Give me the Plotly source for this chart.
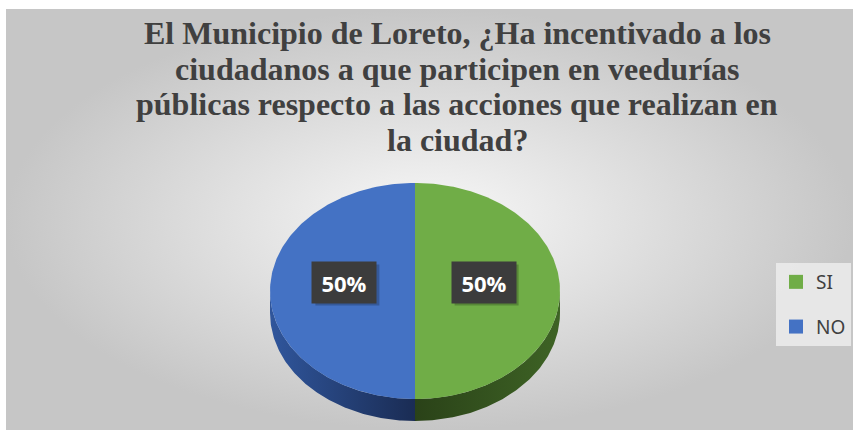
import numpy as np
import plotly.graph_objects as go

# ---- data ----
labels = ["SI", "NO"]
values = [50, 50]
colors = ["#70AD47", "#4472C4"]
wall_scales = [
    [[0, "#2a4218"], [1, "#3e6325"]],   # SI wall: dark at centre, lighter to the right
    [[0, "#30569c"], [1, "#1a2c54"]],   # NO wall: lighter at left, dark at centre
]
title_lines = [
    "El Municipio de Loreto, ¿Ha incentivado a los",
    "ciudadanos a que participen en veedurías",
    "públicas respecto a las acciones que realizan en",
    "la ciudad?",
]

# ---- layout geometry (pixels) ----
W, H = 853, 430
cx, cy, rx, ry, depth = 415, 291, 145, 108, 22
title_x, title_base, title_step, title_size = 457, 43, 35.7, 32
box_w, box_h = 64, 41

fig = go.Figure()

# chart-area background with radial gradient
fig.add_trace(go.Scatter(
    x=[6, W, W, 6, 6], y=[9, 9, H, H, 9], mode="lines", line=dict(width=0),
    fill="toself",
    fillgradient=dict(type="radial", colorscale=[[0, "#f8f8f8"], [1, "#c6c6c6"]]),
    hoverinfo="skip", showlegend=False,
))

total = float(sum(values))
bounds = []
acc = 0.0
for v in values:
    bounds.append((2 * np.pi * acc / total, 2 * np.pi * (acc + v) / total))
    acc += v

# side walls (front half only)
for (t0, t1), ws in zip(bounds, wall_scales):
    a, b = max(t0, np.pi / 2), min(t1, 3 * np.pi / 2)
    if a < b:
        ts = np.linspace(a, b, 120)
        xs = cx + rx * np.sin(ts)
        ys = cy - ry * np.cos(ts)
        X = np.concatenate([xs, xs[::-1], xs[:1]])
        Y = np.concatenate([ys, ys[::-1] + depth, ys[:1]])
        fig.add_trace(go.Scatter(
            x=X, y=Y, mode="lines", line=dict(width=0), fill="toself",
            fillgradient=dict(type="horizontal", colorscale=ws),
            hoverinfo="skip", showlegend=False,
        ))

# top faces
for (t0, t1), col, lab in zip(bounds, colors, labels):
    ts = np.linspace(t0, t1, 200)
    X = np.concatenate([[cx], cx + rx * np.sin(ts), [cx]])
    Y = np.concatenate([[cy], cy - ry * np.cos(ts), [cy]])
    fig.add_trace(go.Scatter(
        x=X, y=Y, mode="lines", line=dict(width=0), fill="toself",
        fillcolor=col, hoverinfo="skip", showlegend=False, name=lab,
    ))

# legend entries
for lab, col in zip(labels, colors):
    fig.add_trace(go.Scatter(
        x=[None], y=[None], mode="markers", name=lab, legendgroup=lab,
        marker=dict(symbol="square", size=14, color=col, line=dict(width=0)),
    ))

annotations = []
shapes = []

# title, one line per annotation (to match the reference's line spacing)
for i, line in enumerate(title_lines):
    annotations.append(dict(
        x=title_x, y=title_base + i * title_step - 10, xref="x", yref="y",
        text=line, showarrow=False, xanchor="center", yanchor="middle",
        font=dict(family="Liberation Serif", size=title_size, color="#404040", weight=700),
    ))

# data labels
for (t0, t1), v in zip(bounds, values):
    tm = (t0 + t1) / 2
    lx = cx + 0.48 * rx * np.sin(tm) - 1
    ly = cy - 0.48 * ry * np.cos(tm) - 9
    txt = f"{v / total:.0%}"
    shapes.append(dict(
        type="rect", xref="x", yref="y", layer="above",
        x0=lx - box_w / 2 + 3, x1=lx + box_w / 2 + 3,
        y0=ly - box_h / 2 + 3, y1=ly + box_h / 2 + 3,
        fillcolor="rgba(0,0,0,0.22)", line=dict(width=0),
    ))
    annotations.append(dict(
        x=lx, y=ly, xref="x", yref="y", text=txt, showarrow=False,
        font=dict(family="Open Sans", size=22, color="white", weight=700),
        bgcolor="#3c3c3c", width=box_w, height=box_h, borderpad=0,
    ))

fig.update_layout(
    width=W, height=H, margin=dict(l=0, r=0, t=0, b=0),
    paper_bgcolor="white", plot_bgcolor="white",
    xaxis=dict(range=[0, W], visible=False, fixedrange=True),
    yaxis=dict(range=[H, 0], visible=False, fixedrange=True),
    legend=dict(
        x=776 / W, xanchor="left", y=1 - 263 / H, yanchor="top",
        bgcolor="rgba(236,236,236,0.85)", borderwidth=0,
        font=dict(family="Noto Sans", size=19, color="#404040"),
        tracegroupgap=17, itemclick=False, itemdoubleclick=False,
    ),
    annotations=annotations,
    shapes=shapes,
    showlegend=True,
)

fig.write_html(
    "out.html",
    config={"displayModeBar": False},
    post_script="document.body.style.margin='0';",
)
